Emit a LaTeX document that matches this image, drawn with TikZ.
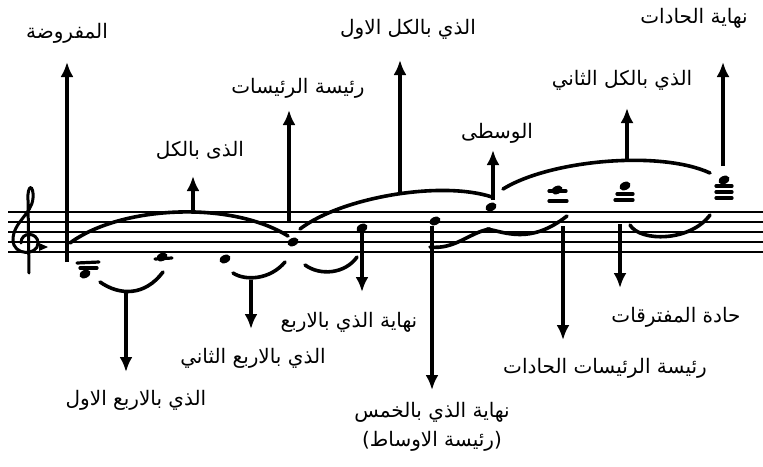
\documentclass[tikz,border=0pt]{standalone}
\usepackage{fontspec}
\newfontfamily\arabicfont[Script=Arabic]{DejaVu Sans}
\TeXXeTstate=1
\usepackage{tikz}
\usetikzlibrary{arrows.meta,positioning}
\newcommand{\arlabel}[1]{\arabicfont\beginR #1\endR}
\tikzset{
  lab/.style={inner sep=1pt, font=\fontsize{20}{24}\selectfont},
  arr/.style={->, >={Latex[length=15pt,width=13pt]}, line width=3.6pt},
  stave/.style={line width=2.4pt},
  slur/.style={line width=3.6pt, line cap=round},
  ledger/.style={line width=3.2pt, line cap=round},
  clef/.style={line width=3pt, line cap=round},
}
\begin{document}
\begin{tikzpicture}[x=1pt,y=-1pt]
\useasboundingbox (0,0) rectangle (763,466);
% staff and clef
\foreach \y in {212,222,232,242,252}
  \draw[stave] (8,\y) -- (763,\y);
\draw[clef] (29,273) -- (28,200)
  .. controls (27,184) and (34,184) .. (33,198)
  .. controls (32,214) and (13,222) .. (13,240)
  .. controls (13,256) and (38,256) .. (38,243)
  .. controls (38,232) and (21,231) .. (21,243);
\fill (39,243) -- (48,247) -- (39,251) -- cycle;
% notes
\coordinate (n1) at (85,274);
\coordinate (n2) at (162,257);
\coordinate (n3) at (225,259);
\coordinate (n4) at (293,242);
\coordinate (n5) at (362,228);
\coordinate (n6) at (435,221);
\coordinate (n7) at (491,207);
\coordinate (n8) at (557,190);
\coordinate (n9) at (625,186);
\coordinate (n10) at (724,180);
\foreach \n in {n1,n2,n3,n4,n5,n6,n7,n8,n9,n10}
  \fill[rotate around={25:(\n)}] (\n) ellipse [x radius=5.8pt, y radius=4pt];
% ledger lines
\draw[ledger] (77,263) -- (99,262);
\draw[ledger] (80,268) -- (97,268);
\draw[ledger] (155,259) -- (172,258);
\draw[ledger] (549,191) -- (566,191);
\draw[ledger] (549,201) -- (567,201);
\draw[ledger] (617,194) -- (633,194);
\draw[ledger] (615,200) -- (633,200);
\draw[ledger] (716,186) -- (732,186);
\draw[ledger] (716,192) -- (732,192);
\draw[ledger] (716,198) -- (732,198);
% slurs
\draw[slur] (70,243) .. controls (120,206) and (230,200) .. (288,236);
\draw[slur] (100,282) .. controls (120,296) and (145,296) .. (163,272);
\draw[slur] (233,273) .. controls (245,281) and (270,280) .. (285,262);
\draw[slur] (305,265) .. controls (320,276) and (345,274) .. (357,257);
\draw[slur] (300,229) .. controls (340,198) and (440,180) .. (492,197);
\draw[slur] (430,247) .. controls (455,250) and (470,232) .. (490,229);
\draw[slur] (487,229) .. controls (505,232) and (530,245) .. (567,216);
\draw[slur] (630,225) .. controls (640,242) and (690,242) .. (710,215);
\draw[slur] (503,189) .. controls (550,160) and (660,150) .. (710,173);
% arrow ends
\coordinate (sMaf) at (67,262);     \coordinate (tMaf) at (67,62);
\coordinate (sKull) at (193,211);   \coordinate (tKull) at (193,176);
\coordinate (sRais) at (289,222);   \coordinate (tRais) at (289,110);
\coordinate (sKullA) at (400,192);  \coordinate (tKullA) at (400,60);
\coordinate (sWust) at (493,200);   \coordinate (tWust) at (493,150);
\coordinate (sKullT) at (627,161);  \coordinate (tKullT) at (627,108);
\coordinate (sNihH) at (723,166);   \coordinate (tNihH) at (723,62);
\coordinate (sArbA) at (126,293);   \coordinate (tArbA) at (126,372);
\coordinate (sArbT) at (251,280);   \coordinate (tArbT) at (251,329);
\coordinate (sNihA) at (362,232);   \coordinate (tNihA) at (362,292);
\coordinate (sKham) at (432,226);   \coordinate (tKham) at (432,390);
\coordinate (sRaisH) at (563,226);  \coordinate (tRaisH) at (563,340);
\coordinate (sHad) at (620,224);    \coordinate (tHad) at (620,288);
% labels
\node[lab] (lMaf) at (67,33) {\arlabel{المفروضة}};
\node[lab] (lKull) at (200,150) {\arlabel{الذى بالكل}};
\node[lab] (lRais) at (298,88) {\arlabel{رئيسة الرئيسات}};
\node[lab] (lKullA) at (408,29) {\arlabel{الذي بالكل الاول}};
\node[lab] (lWust) at (497,133) {\arlabel{الوسطى}};
\node[lab] (lKullT) at (622,80) {\arlabel{الذي بالكل الثاني}};
\node[lab] (lNihH) at (694,18) {\arlabel{نهاية الحادات}};
\node[lab] (lArbA) at (136,400) {\arlabel{الذي بالاربع الاول}};
\node[lab] (lArbT) at (253,358) {\arlabel{الذي بالاربع الثاني}};
\node[lab] (lNihA) at (349,322) {\arlabel{نهاية الذي بالاربع}};
\node[lab] (lKham) at (432,412) {\arlabel{نهاية الذي بالخمس}};
\node[lab, below=7pt of lKham] (lAws) {\arlabel{(رئيسة الاوساط)}};
\node[lab] (lHad) at (676,317) {\arlabel{حادة المفترقات}};
\node[lab] (lRaisH) at (605,368) {\arlabel{رئيسة الرئيسات الحادات}};
% arrows
\draw[arr] (sMaf) -- (tMaf);
\draw[arr] (sKull) -- (tKull);
\draw[arr] (sRais) -- (tRais);
\draw[arr] (sKullA) -- (tKullA);
\draw[arr] (sWust) -- (tWust);
\draw[arr] (sKullT) -- (tKullT);
\draw[arr] (sNihH) -- (tNihH);
\draw[arr] (sArbA) -- (tArbA);
\draw[arr] (sArbT) -- (tArbT);
\draw[arr] (sNihA) -- (tNihA);
\draw[arr] (sKham) -- (tKham);
\draw[arr] (sRaisH) -- (tRaisH);
\draw[arr] (sHad) -- (tHad);
\end{tikzpicture}
\end{document}
